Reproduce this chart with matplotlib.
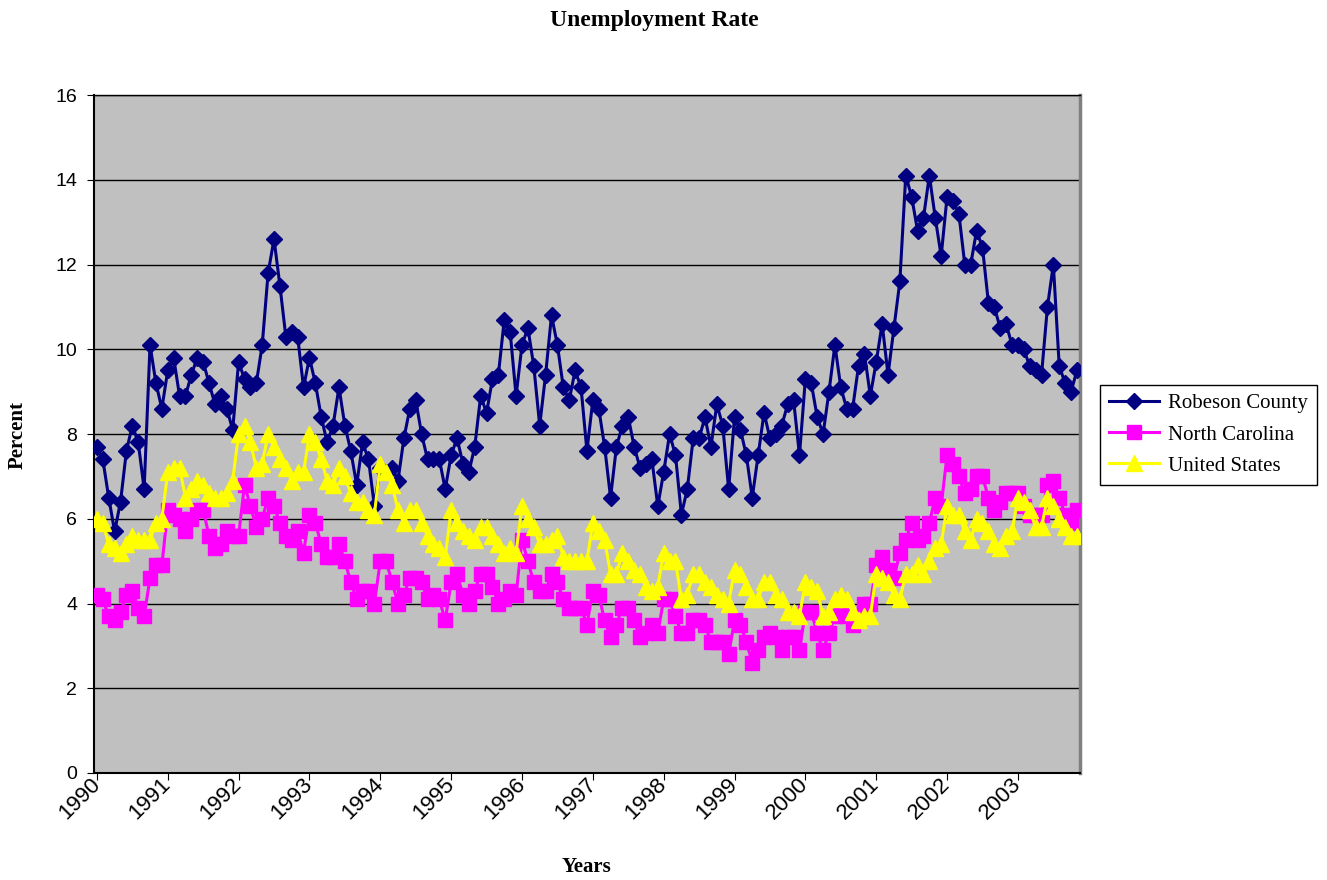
import matplotlib
matplotlib.use("Agg")
import matplotlib.pyplot as plt
import numpy as np

# monthly rates, Jan 1990 - Nov 2003
robeson = [7.7, 7.4, 6.5, 5.7, 6.4, 7.6, 8.2, 7.8, 6.7, 10.1, 9.2, 8.6,
           9.5, 9.8, 8.9, 8.9, 9.4, 9.8, 9.7, 9.2, 8.7, 8.9, 8.6, 8.1,
           9.7, 9.3, 9.1, 9.2, 10.1, 11.8, 12.6, 11.5, 10.3, 10.4, 10.3, 9.1,
           9.8, 9.2, 8.4, 7.8, 8.2, 9.1, 8.2, 7.6, 6.8, 7.8, 7.4, 6.3,
           7.2, 7.1, 7.2, 6.9, 7.9, 8.6, 8.8, 8.0, 7.4, 7.4, 7.4, 6.7,
           7.5, 7.9, 7.3, 7.1, 7.7, 8.9, 8.5, 9.3, 9.4, 10.7, 10.4, 8.9,
           10.1, 10.5, 9.6, 8.2, 9.4, 10.8, 10.1, 9.1, 8.8, 9.5, 9.1, 7.6,
           8.8, 8.6, 7.7, 6.5, 7.7, 8.2, 8.4, 7.7, 7.2, 7.3, 7.4, 6.3,
           7.1, 8.0, 7.5, 6.1, 6.7, 7.9, 7.9, 8.4, 7.7, 8.7, 8.2, 6.7,
           8.4, 8.1, 7.5, 6.5, 7.5, 8.5, 7.9, 8.0, 8.2, 8.7, 8.8, 7.5,
           9.3, 9.2, 8.4, 8.0, 9.0, 10.1, 9.1, 8.6, 8.6, 9.6, 9.9, 8.9,
           9.7, 10.6, 9.4, 10.5, 11.6, 14.1, 13.6, 12.8, 13.1, 14.1, 13.1, 12.2,
           13.6, 13.5, 13.2, 12.0, 12.0, 12.8, 12.4, 11.1, 11.0, 10.5, 10.6, 10.1,
           10.1, 10.0, 9.6, 9.5, 9.4, 11.0, 12.0, 9.6, 9.2, 9.0, 9.5]

north_carolina = [4.2, 4.1, 3.7, 3.6, 3.8, 4.2, 4.3, 3.9, 3.7, 4.6, 4.9, 4.9,
                  6.2, 6.1, 6.0, 5.7, 6.0, 6.2, 6.2, 5.6, 5.3, 5.4, 5.7, 5.6,
                  5.6, 6.8, 6.3, 5.8, 6.0, 6.5, 6.3, 5.9, 5.6, 5.5, 5.7, 5.2,
                  6.1, 5.9, 5.4, 5.1, 5.1, 5.4, 5.0, 4.5, 4.1, 4.3, 4.3, 4.0,
                  5.0, 5.0, 4.5, 4.0, 4.2, 4.6, 4.6, 4.5, 4.1, 4.2, 4.1, 3.6,
                  4.5, 4.7, 4.2, 4.0, 4.3, 4.7, 4.7, 4.4, 4.0, 4.1, 4.3, 4.2,
                  5.5, 5.0, 4.5, 4.3, 4.3, 4.7, 4.5, 4.1, 3.9, 3.9, 3.9, 3.5,
                  4.3, 4.2, 3.6, 3.2, 3.5, 3.9, 3.9, 3.6, 3.2, 3.3, 3.5, 3.3,
                  4.1, 4.1, 3.7, 3.3, 3.3, 3.6, 3.6, 3.5, 3.1, 3.1, 3.1, 2.8,
                  3.6, 3.5, 3.1, 2.6, 2.9, 3.2, 3.3, 3.2, 2.9, 3.2, 3.2, 2.9,
                  3.8, 3.8, 3.3, 2.9, 3.3, 3.7, 3.8, 3.7, 3.5, 3.6, 4.0, 4.0,
                  4.9, 5.1, 4.8, 4.6, 5.2, 5.5, 5.9, 5.5, 5.6, 5.9, 6.5, 6.3,
                  7.5, 7.3, 7.0, 6.6, 6.7, 7.0, 7.0, 6.5, 6.2, 6.4, 6.6, 6.6,
                  6.6, 6.3, 6.1, 6.1, 6.1, 6.8, 6.9, 6.5, 6.1, 5.9, 6.2]

united_states = [6.0, 5.9, 5.4, 5.3, 5.2, 5.4, 5.6, 5.5, 5.5, 5.5, 5.9, 6.0,
                 7.1, 7.2, 7.2, 6.5, 6.7, 6.9, 6.8, 6.6, 6.5, 6.5, 6.6, 6.9,
                 8.0, 8.2, 7.8, 7.2, 7.3, 8.0, 7.7, 7.4, 7.2, 6.9, 7.1, 7.1,
                 8.0, 7.8, 7.4, 6.9, 6.8, 7.2, 7.0, 6.6, 6.4, 6.4, 6.2, 6.1,
                 7.3, 7.1, 6.8, 6.2, 5.9, 6.2, 6.2, 5.9, 5.6, 5.4, 5.3, 5.1,
                 6.2, 5.9, 5.7, 5.6, 5.5, 5.8, 5.8, 5.6, 5.4, 5.2, 5.3, 5.2,
                 6.3, 6.0, 5.8, 5.4, 5.4, 5.5, 5.6, 5.1, 5.0, 5.0, 5.0, 5.0,
                 5.9, 5.7, 5.5, 4.7, 4.7, 5.2, 5.0, 4.8, 4.7, 4.4, 4.3, 4.4,
                 5.2, 5.0, 5.0, 4.1, 4.2, 4.7, 4.7, 4.5, 4.4, 4.2, 4.1, 4.0,
                 4.8, 4.7, 4.4, 4.1, 4.1, 4.5, 4.5, 4.2, 4.1, 3.8, 3.8, 3.7,
                 4.5, 4.4, 4.3, 3.7, 3.8, 4.1, 4.2, 4.1, 3.8, 3.6, 3.7, 3.7,
                 4.7, 4.6, 4.5, 4.2, 4.1, 4.7, 4.7, 4.9, 4.7, 5.0, 5.3, 5.4,
                 6.3, 6.1, 6.1, 5.7, 5.5, 6.0, 5.9, 5.7, 5.4, 5.3, 5.6, 5.7,
                 6.5, 6.4, 6.2, 5.8, 5.8, 6.5, 6.3, 6.0, 5.8, 5.6, 5.6]

years = [str(y) for y in range(1990, 2004)]

serif = "Liberation Serif"
sans = "Liberation Sans"

fig = plt.figure(figsize=(13.27, 8.80), dpi=100)
ax = fig.add_axes([0.0708, 0.1216, 0.743, 0.7704])
ax.set_facecolor("#C0C0C0")

x = np.arange(len(robeson))
ax.plot(x, robeson, color="#000080", lw=2.2, marker="D", ms=8.5, label="Robeson County", zorder=3)
ax.plot(x, north_carolina, color="#FF00FF", lw=2.2, marker="s", ms=10, label="North Carolina", zorder=4)
ax.plot(x, united_states, color="#FFFF00", lw=2.2, marker="^", ms=11, label="United States", zorder=5)

ax.set_xlim(-0.5, len(robeson) - 0.5)
ax.set_ylim(0, 16)
ax.set_yticks(np.arange(0, 17, 2))
ax.yaxis.grid(True, color="black", lw=1)
ax.set_axisbelow(True)

ax.set_xticks(np.arange(0, len(robeson), 12))
ax.set_xticklabels(years, rotation=45, ha="right", va="center", rotation_mode="anchor",
                   fontsize=16, family=sans)
for t in ax.get_yticklabels():
    t.set_fontsize(14)
    t.set_family(sans)
ax.tick_params(axis="both", direction="out", length=5, color="black")
ax.tick_params(axis="y", pad=7)
ax.tick_params(axis="x", pad=1)

for s in ["left", "bottom"]:
    ax.spines[s].set_color("black")
    ax.spines[s].set_linewidth(1.5)
ax.spines["top"].set_color("black")
ax.spines["top"].set_linewidth(1)
ax.spines["right"].set_color("#808080")
ax.spines["right"].set_linewidth(2.5)

fig.text(0.493, 0.977, "Unemployment Rate", ha="center", va="center",
         fontsize=17, fontweight="bold", family=serif)
fig.text(0.442, 0.015, "Years", ha="center", va="center",
         fontsize=15, fontweight="bold", family=serif)
fig.text(0.0136, 0.506, "Percent", ha="center", va="center", rotation=90,
         fontsize=15, fontweight="bold", family=serif)

leg = fig.legend(loc="center left", bbox_to_anchor=(0.829, 0.506), frameon=True,
                 fancybox=False, edgecolor="black", framealpha=1,
                 prop={"family": serif, "size": 15}, handlelength=2.4,
                 handletextpad=0.4, borderpad=0.45, labelspacing=0.55,
                 borderaxespad=0)
leg.get_frame().set_linewidth(1.0)

fig.savefig("out.png", dpi=100)
